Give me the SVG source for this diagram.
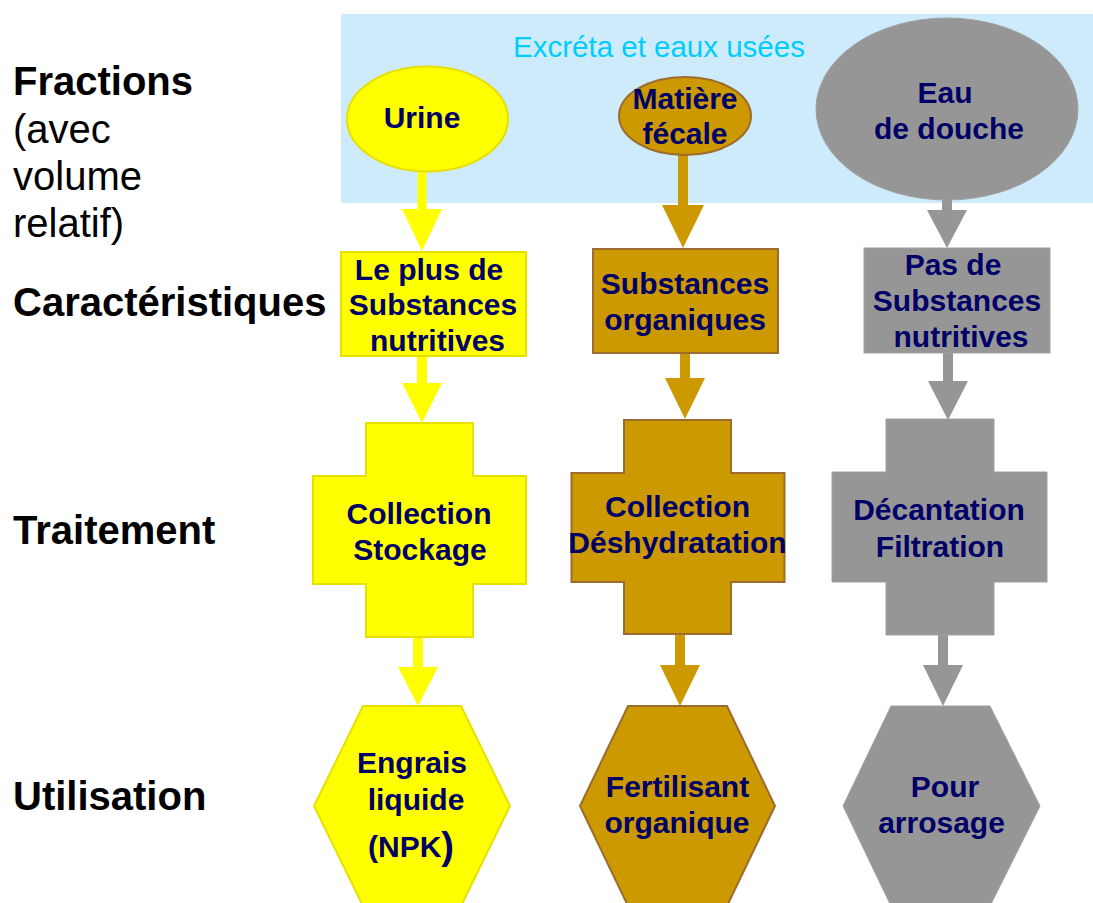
<svg xmlns="http://www.w3.org/2000/svg" width="1093" height="903" viewBox="0 0 1093 903">
<style>
.lbl{font-family:"Liberation Sans",Arial,sans-serif;font-size:40px;fill:#000}
.b{font-weight:bold}
.t{font-family:"Liberation Sans",Arial,sans-serif;font-size:30px;font-weight:bold;fill:#000066;text-anchor:middle}
.ye{fill:#ffff00;stroke:#e6e000;stroke-width:2}
.br{fill:#cc9900;stroke:#9c6b2e;stroke-width:2}
.gr{fill:#969696;stroke:#a0a0a0;stroke-width:1}
.ay{fill:#ffff00}
.ab{fill:#cc9900}
.ag{fill:#969696}
</style>
<rect width="1093" height="903" fill="#fff"/>
<g id="background">
<rect x="341" y="14" width="752" height="189" fill="#cdebfb"/>
<text x="659" y="57" font-family="Liberation Sans, Arial, sans-serif" font-size="29.5" fill="#00ccff" text-anchor="middle">Excréta et eaux usées</text>
</g>
<g id="row-labels">
<text class="lbl b" x="13" y="95">Fractions</text>
<text class="lbl" x="13" y="143">(avec</text>
<text class="lbl" x="13" y="190">volume</text>
<text class="lbl" x="13" y="237">relatif)</text>
<text class="lbl b" x="13" y="316">Caractéristiques</text>
<text class="lbl b" x="13" y="544">Traitement</text>
<text class="lbl b" x="13" y="810">Utilisation</text>
</g>
<g id="connectors">
<polygon class="ay" points="417.5,170 426.5,170 426.5,209 442,209 422,251 402,209 417.5,209"/>
<polygon class="ab" points="678,154 688,154 688,205 704,205 683,248 662,205 678,205"/>
<polygon class="ag" points="942,199 952,199 952,210 967,210 947,248 927,210 942,210"/>
<polygon class="ay" points="417,356 427,356 427,383 442,383 422,423 402,383 417,383"/>
<polygon class="ab" points="680,353 690,353 690,378 705,378 685,419 665,378 680,378"/>
<polygon class="ag" points="943,353 953,353 953,381 968,381 948,420 928,381 943,381"/>
<polygon class="ay" points="413,637 423,637 423,667 438,667 418,706 398,667 413,667"/>
<polygon class="ab" points="675,634 685,634 685,665 700,665 680,706 660,665 675,665"/>
<polygon class="ag" points="938,635 948,635 948,665 963,665 943,706 923,665 938,665"/>
</g>
<g id="urine">
<ellipse class="ye" cx="427.5" cy="119" rx="80.5" ry="52.5"/>
<text class="t" x="422" y="128">Urine</text>
</g>
<g id="matiere-fecale">
<ellipse class="br" cx="685" cy="116" rx="66" ry="39"/>
<text class="t" x="685" y="109">Matière</text>
<text class="t" x="685" y="144">fécale</text>
</g>
<g id="eau-douche">
<ellipse class="gr" cx="947" cy="109" rx="131" ry="91" stroke="none"/>
<text class="t" x="945" y="103">Eau</text>
<text class="t" x="949" y="139">de douche</text>
</g>
<g id="car-urine">
<rect class="ye" x="341" y="252" width="185" height="104"/>
<text class="t" x="429" y="280">Le plus de</text>
<text class="t" x="433" y="315">Substances</text>
<text class="t" x="437.5" y="351">nutritives</text>
</g>
<g id="car-fecale">
<rect class="br" x="593" y="249" width="185" height="104"/>
<text class="t" x="685" y="294">Substances</text>
<text class="t" x="685" y="330">organiques</text>
</g>
<g id="car-douche">
<rect class="gr" x="864" y="248" width="186" height="105"/>
<text class="t" x="953" y="275">Pas de</text>
<text class="t" x="957" y="311">Substances</text>
<text class="t" x="961" y="347">nutritives</text>
</g>
<g id="trait-urine">
<polygon class="ye" points="366,423 473,423 473,476 526,476 526,584 473,584 473,637 366,637 366,584 313,584 313,476 366,476"/>
<text class="t" x="419" y="524">Collection</text>
<text class="t" x="420" y="560">Stockage</text>
</g>
<g id="trait-fecale">
<polygon class="br" points="624,420 731,420 731,473 784.5,473 784.5,582 731,582 731,634 624,634 624,582 571.5,582 571.5,473 624,473"/>
<text class="t" x="677.5" y="517">Collection</text>
<text class="t" x="677.5" y="553">Déshydratation</text>
</g>
<g id="trait-douche">
<polygon class="gr" points="886,419 994,419 994,472 1047,472 1047,582 994,582 994,635 886,635 886,582 832,582 832,472 886,472"/>
<text class="t" x="939" y="520">Décantation</text>
<text class="t" x="940" y="557">Filtration</text>
</g>
<g id="util-urine">
<polygon class="ye" points="363,706 461,706 510,806 461,906 363,906 314,806"/>
<text class="t" x="412" y="773">Engrais</text>
<text class="t" x="416" y="810">liquide</text>
<text class="t" x="411" y="857">(NPK<tspan font-size="38" dy="2">)</tspan></text>
</g>
<g id="util-fecale">
<polygon class="br" points="628,706 727,706 775,806 727,906 628,906 580,806"/>
<text class="t" x="677.5" y="797">Fertilisant</text>
<text class="t" x="677" y="833">organique</text>
</g>
<g id="util-douche">
<polygon class="gr" points="891,706 990,706 1040,806 990,906 891,906 843,806"/>
<text class="t" x="945" y="797">Pour</text>
<text class="t" x="941.5" y="833">arrosage</text>
</g>
</svg>
